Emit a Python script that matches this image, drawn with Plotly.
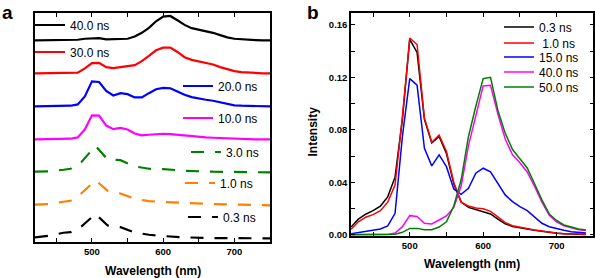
import plotly.graph_objects as go

# ---------------- Panel a data (offset-stacked transient spectra) ----------------
wl_a = [420, 430, 440, 450, 460, 470, 480, 490, 500, 510, 520, 530, 540, 550, 560, 570, 580,
        590, 600, 610, 620, 630, 640, 650, 660, 670, 680, 690, 700, 710, 720, 730, 740, 750]
a_40ns = [0, 0, 0, 0, 0, 0.01, 0.02, 0.05, 0.07, 0.07, 0.03, 0.03, 0.04, 0.05, 0.12, 0.23, 0.38,
          0.58, 0.72, 0.74, 0.61, 0.47, 0.37, 0.33, 0.28, 0.23, 0.16, 0.09, 0.05, 0.03, 0.01, 0.01, 0, 0]
a_30ns = [0, 0, 0, 0, 0, 0, 0.02, 0.15, 0.31, 0.32, 0.19, 0.16, 0.20, 0.22, 0.25, 0.37, 0.53,
          0.70, 0.78, 0.78, 0.65, 0.49, 0.41, 0.37, 0.33, 0.27, 0.19, 0.12, 0.07, 0.04, 0.02, 0.01, 0, 0]
a_20ns = [0, 0, 0, 0.01, 0.01, 0.02, 0.06, 0.30, 0.76, 0.74, 0.47, 0.33, 0.40, 0.37, 0.27, 0.27, 0.40,
          0.52, 0.56, 0.55, 0.45, 0.35, 0.28, 0.23, 0.20, 0.17, 0.12, 0.07, 0.03, 0.02, 0.01, 0, 0, 0]
a_10ns = [0, 0, 0, 0, 0, 0.02, 0.06, 0.30, 0.73, 0.72, 0.42, 0.31, 0.35, 0.30, 0.18, 0.12, 0.14,
          0.16, 0.17, 0.16, 0.14, 0.11, 0.08, 0.07, 0.06, 0.05, 0.04, 0.02, 0.01, 0.01, 0, 0, 0, 0]
wl_a_short = [420, 440, 460, 470, 485, 505, 522, 540, 560, 580, 600, 630, 670, 710, 750]
a_3ns = [0.02, 0.03, 0.08, 0.11, 0.31, 0.80, 0.39, 0.37, 0.18, 0.11, 0.10, 0.05, 0.02, 0.01, 0]
a_1ns = [0.02, 0.04, 0.11, 0.14, 0.36, 0.76, 0.44, 0.36, 0.20, 0.13, 0.10, 0.07, 0.04, 0.02, 0]
a_03ns = [0.03, 0.08, 0.17, 0.19, 0.36, 0.74, 0.39, 0.34, 0.18, 0.11, 0.07, 0.03, 0.01, 0, 0]

# ---------------- Panel b data ----------------
wl_b = [420, 430, 440, 450, 460, 470, 480, 490, 500, 510, 520, 530, 540, 550, 560, 570, 580,
        590, 600, 610, 620, 630, 640, 650, 660, 670, 680, 690, 700, 710, 720, 730, 740]
b_03ns = [0.006, 0.012, 0.0158, 0.0185, 0.022, 0.029, 0.044, 0.088, 0.149, 0.139, 0.088, 0.070, 0.075,
          0.062, 0.039, 0.025, 0.021, 0.0195, 0.018, 0.016, 0.012, 0.0085, 0.0065, 0.0053, 0.0045,
          0.0035, 0.0026, 0.0018, 0.0013, 0.0009, 0.0007, 0.0005, 0.0004]
b_1ns = [0.0043, 0.010, 0.0135, 0.0155, 0.0185, 0.025, 0.038, 0.090, 0.150, 0.145, 0.089, 0.0706, 0.076,
         0.0635, 0.040, 0.025, 0.022, 0.0205, 0.020, 0.018, 0.0137, 0.0094, 0.007, 0.0058, 0.0048,
         0.0038, 0.003, 0.002, 0.0015, 0.001, 0.0008, 0.0006, 0.0005]
b_15ns = [0.001, 0.0018, 0.0028, 0.0036, 0.0046, 0.0069, 0.0165, 0.075, 0.119, 0.114, 0.066, 0.0526, 0.061,
          0.052, 0.035, 0.031, 0.0355, 0.047, 0.0508, 0.048, 0.039, 0.0305, 0.0254, 0.0216, 0.0185,
          0.0135, 0.0089, 0.0063, 0.0048, 0.0035, 0.0025, 0.0018, 0.0015]
b_40ns = [0.0003, 0.0003, 0.0003, 0.0003, 0.0003, 0.0003, 0.0015, 0.0063, 0.0147, 0.014, 0.0089, 0.0084,
          0.0114, 0.0145, 0.021, 0.037, 0.068, 0.092, 0.1135, 0.114, 0.092, 0.073, 0.061, 0.055, 0.048,
          0.037, 0.025, 0.015, 0.010, 0.007, 0.0052, 0.004, 0.0033]
b_50ns = [0.0002, 0.0002, 0.0002, 0.0002, 0.0002, 0.0002, 0.0005, 0.002, 0.005, 0.005, 0.004, 0.004,
          0.006, 0.010, 0.022, 0.042, 0.075, 0.098, 0.119, 0.120, 0.095, 0.0775, 0.065, 0.058, 0.051,
          0.039, 0.0267, 0.016, 0.011, 0.0076, 0.0058, 0.0045, 0.0038]

W, H = 595, 278
FONT = "Arial, Liberation Sans, sans-serif"

# panel a traces: (label, x, y, offset, colour, dash, legend pos (sample-start px, centre-y px))
panel_a = [
    ("0.3 ns", wl_a_short, a_03ns, 0, "#000000", "13px,11px", (193, 217)),
    ("1.0 ns", wl_a_short, a_1ns, 1, "#ff7f00", "13px,11px", (190, 183)),
    ("3.0 ns", wl_a_short, a_3ns, 2, "#008000", "13px,11px", (196, 152)),
    ("10.0 ns", wl_a, a_10ns, 3, "#ff00ff", "solid", (188, 118)),
    ("20.0 ns", wl_a, a_20ns, 4, "#0000ff", "solid", (188, 86)),
    ("30.0 ns", wl_a, a_30ns, 5, "#ff0000", "solid", (40, 52)),
    ("40.0 ns", wl_a, a_40ns, 6, "#000000", "solid", (40, 25)),
]
panel_b = [
    ("0.3 ns", b_03ns, "#000000", 27),
    ("\u00a01.0 ns", b_1ns, "#ff0000", 43),
    ("15.0 ns", b_15ns, "#0000ff", 57),
    ("40.0 ns", b_40ns, "#ff00ff", 72),
    ("50.0 ns", b_50ns, "#008000", 87),
]

LX, LY = 10, 0  # legend anchor corrections (px)

fig = go.Figure()
legends = {}
n = 0
for name, xs, ys, off, col, dash, (lx, ly) in panel_a:
    n += 1
    key = "legend" if n == 1 else f"legend{n}"
    fig.add_trace(go.Scatter(x=xs, y=[v + off for v in ys], mode="lines", name=name,
                             line=dict(color=col, width=2.2, dash=dash),
                             xaxis="x", yaxis="y", legend=key))
    legends[key] = dict(x=(lx - LX) / W, y=1 - (ly - LY) / H, xanchor="left", yanchor="middle",
                        bgcolor="rgba(0,0,0,0)", font=dict(family=FONT, size=12, color="#000"),
                        itemwidth=30, borderwidth=0)
for name, ys, col, ly in panel_b:
    n += 1
    key = f"legend{n}"
    fig.add_trace(go.Scatter(x=wl_b, y=ys, mode="lines", name=name,
                             line=dict(color=col, width=1.5),
                             xaxis="x2", yaxis="y2", legend=key))
    legends[key] = dict(x=(509 - LX) / W, y=1 - (ly - LY) / H, xanchor="left", yanchor="middle",
                        bgcolor="rgba(0,0,0,0)", font=dict(family=FONT, size=12, color="#000"),
                        itemwidth=30, borderwidth=0)

tickfont = dict(family=FONT, size=9.5, color="#000", weight="bold")
titlefont = dict(family=FONT, size=12, color="#000", weight="bold")
common_x = dict(range=[420, 750], dtick=100, tick0=0, ticks="inside", ticklen=4, tickwidth=1.2,
                tickcolor="#000", showline=True, linecolor="#000", linewidth=1.5, mirror="ticks",
                showgrid=False, zeroline=False, tickfont=tickfont, automargin=False,
                minor=dict(dtick=50, tick0=0, ticks="inside", ticklen=4, tickwidth=1.2, tickcolor="#000"))

fig.update_layout(
    width=W, height=H, margin=dict(l=0, r=0, t=0, b=0, autoexpand=False),
    paper_bgcolor="white", plot_bgcolor="white",
    showlegend=True,
    xaxis=dict(domain=[35 / W, 270 / W], anchor="y", **common_x),
    yaxis=dict(domain=[(H - 242) / H, (H - 13) / H], anchor="x", range=[-0.11, 6.83],
               showticklabels=False, ticks="", showline=True, linecolor="#000", linewidth=1.5,
               mirror=True, showgrid=False, zeroline=False, automargin=False),
    xaxis2=dict(domain=[351 / W, 593.3 / W], anchor="y2", **common_x),
    yaxis2=dict(domain=[(H - 236) / H, (H - 13) / H], anchor="x2", range=[-0.0008, 0.169],
                dtick=0.04, tick0=0, tickformat=".2f", ticks="inside", ticklen=4, tickwidth=1.2,
                tickcolor="#000", showline=True, linecolor="#000", linewidth=1.5, mirror="ticks",
                showgrid=False, zeroline=False, tickfont=tickfont, automargin=False,
                minor=dict(dtick=0.02, tick0=0, ticks="inside", ticklen=4, tickwidth=1.2, tickcolor="#000")),
    annotations=[
        dict(text="a", x=0, y=1, xref="paper", yref="paper", xanchor="left", yanchor="top",
             showarrow=False, font=dict(family=FONT, size=19, color="#000", weight="bold")),
        dict(text="b", x=305 / W, y=1, xref="paper", yref="paper", xanchor="left", yanchor="top",
             showarrow=False, font=dict(family=FONT, size=19, color="#000", weight="bold")),
        dict(text="Intensity", textangle=-90, x=312.5 / W, y=1 - 132 / H, xref="paper", yref="paper",
             xanchor="center", yanchor="middle", showarrow=False, font=titlefont),
        dict(text="Wavelength (nm)", x=(35 + 270) / 2 / W, y=1 - 270.5 / H, xref="paper", yref="paper",
             xanchor="center", yanchor="middle", showarrow=False, font=titlefont),
        dict(text="Wavelength (nm)", x=(351 + 593.3) / 2 / W, y=1 - 264 / H, xref="paper", yref="paper",
             xanchor="center", yanchor="middle", showarrow=False, font=titlefont),
    ],
    **legends,
)

fig.write_html("out.html", config={"displayModeBar": False},
               post_script="document.body.style.margin='0';document.body.style.padding='0';")
